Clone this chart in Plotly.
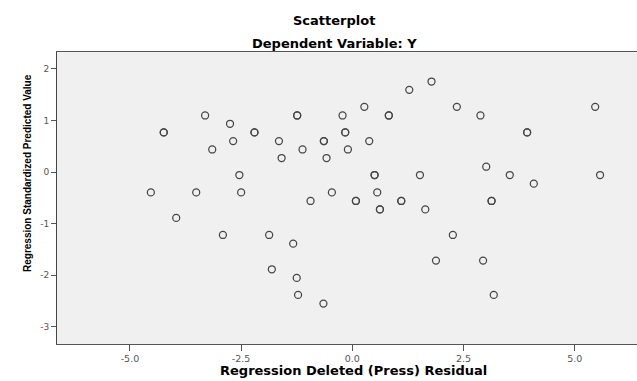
import plotly.graph_objects as go

# Regression Deleted (Press) Residual
press_residual = [
    -4.24, -4.24, -3.31, -2.75, -2.20, -2.20, -2.68, -3.15, -2.54, -4.53, -3.51, -2.50,
    1.78, 1.28, 0.27, -1.24, -1.24, -0.22, 0.82, 0.82, -1.65, -0.64, -0.64, -0.16, -0.16,
    0.38, -1.12, -0.10, -1.59, -0.58, 0.50, 0.50, 1.52, -0.46, 0.56, -0.94, 0.08, 0.08,
    1.10, 1.10, 2.35, 2.88, 5.46, 3.93, 3.93, 3.01, 3.54, 5.57, 4.08, 3.13, 3.13,
    -3.96, -2.91, 0.62, 0.62, 1.64, -1.87, -1.33, 1.88, -1.81, -1.25, -1.22, -0.65,
    2.26, 2.94, 3.18,
]
# Regression Standardized Predicted Value
std_predicted = [
    0.767, 0.767, 1.096, 0.935, 0.767, 0.767, 0.600, 0.437, -0.058, -0.395, -0.395, -0.395,
    1.754, 1.593, 1.264, 1.096, 1.096, 1.096, 1.096, 1.096, 0.600, 0.600, 0.600, 0.767, 0.767,
    0.600, 0.437, 0.437, 0.271, 0.271, -0.058, -0.058, -0.058, -0.395, -0.395, -0.561, -0.561, -0.561,
    -0.561, -0.561, 1.264, 1.096, 1.264, 0.767, 0.767, 0.103, -0.058, -0.058, -0.226, -0.561, -0.561,
    -0.890, -1.220, -0.724, -0.724, -0.724, -1.220, -1.388, -1.717, -1.885, -2.052, -2.381, -2.549,
    -1.220, -1.717, -2.381,
]

x_ticks = [-5.0, -2.5, 0.0, 2.5, 5.0]
x_tick_labels = ["-5.0", "-2.5", "0.0", "2.5", "5.0"]
y_ticks = [-3, -2, -1, 0, 1, 2]
y_tick_labels = ["-3", "-2", "-1", "0", "1", "2"]

title_main = "Scatterplot"
title_sub = "Dependent Variable: Y"
x_title = "Regression Deleted (Press) Residual"
y_title = "Regression Standardized Predicted Value"

WIDE = "DejaVu Sans, Verdana, sans-serif"
ARIAL = "Liberation Sans, Arial, sans-serif"
W, H = 637, 381
L, R, T, B = 57, 0, 52, 37
plot_h = H - T - B
plot_w = W - L - R


def py(pix):
    return (H - B - pix) / plot_h


def px(pix):
    return (pix - L) / plot_w


fig = go.Figure()
fig.add_trace(go.Scatter(
    x=press_residual, y=std_predicted, mode="markers",
    marker=dict(symbol="circle-open", size=7, color="#454545", line=dict(width=1.25, color="#454545")),
    hoverinfo="x+y", showlegend=False,
))

fig.update_layout(
    width=W, height=H,
    margin=dict(l=L, r=R, t=T, b=B, pad=0),
    paper_bgcolor="white", plot_bgcolor="#f0f0f0",
    font=dict(family=ARIAL, color="#000"),
    showlegend=False,
)
fig.update_xaxes(
    range=[-6.64, 6.40], tickvals=x_ticks, ticktext=x_tick_labels,
    showgrid=False, zeroline=False, showline=True, linecolor="#555", linewidth=1,
    mirror=True, ticks="outside", ticklen=6, tickcolor="#555", tickwidth=1,
    tickfont=dict(size=9.5, color="#555", family=WIDE),
)
fig.update_yaxes(
    range=[-3.333, 2.326], tickvals=y_ticks, ticktext=y_tick_labels,
    showgrid=False, zeroline=False, showline=True, linecolor="#444", linewidth=1,
    mirror=False, ticks="outside", ticklen=5, tickcolor="#555", tickwidth=1,
    tickfont=dict(size=9, color="#555", family=WIDE),
)

ann = [
    dict(text="<b>%s</b>" % title_main, x=px(334), y=py(20), yanchor="middle",
         font=dict(size=13, family=WIDE)),
    dict(text="<b>%s</b>" % title_sub, x=px(334), y=py(43.5), yanchor="middle",
         font=dict(size=13, family=WIDE)),
    dict(text="<b>%s</b>" % x_title, x=px(353), y=py(379.5), yanchor="bottom",
         font=dict(size=13, family=WIDE)),
    dict(text="<b>%s</b>" % y_title, x=px(27), y=py(173), yanchor="middle",
         font=dict(size=10, family=ARIAL), textangle=-90),
]
for a in ann:
    fig.add_annotation(xref="paper", yref="paper", showarrow=False,
                       xanchor="center", **a)

fig.write_html(
    "out.html",
    config={"displayModeBar": False},
    post_script="document.body.style.margin='0';document.body.style.overflow='hidden';",
)
